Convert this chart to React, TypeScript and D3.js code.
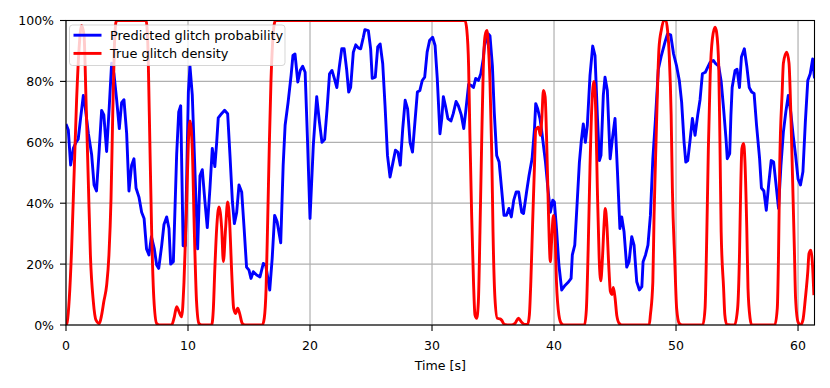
import * as d3 from 'd3';
import React from 'react';

// predicted glitch probability (blue), time in s / value in %
const predTime = [
  0, 0.19, 0.38, 0.6, 0.82, 1.0, 1.2, 1.42, 1.56, 1.83, 2.1, 2.3, 2.5, 2.73, 2.92, 3.1, 3.33, 3.55, 3.74, 3.93,
  4.15, 4.37, 4.56, 4.75, 4.97, 5.16, 5.38, 5.57, 5.74, 5.98, 6.2, 6.4, 6.6, 6.8, 7.0, 7.24, 7.43, 7.6, 7.84, 8.03,
  8.25, 8.44, 8.58, 8.8, 9.07, 9.24, 9.4, 9.6, 9.78, 10.03, 10.16, 10.35, 10.79, 10.98, 11.17, 11.39, 11.58, 11.8, 11.99, 12.2,
  12.35, 12.48, 12.75, 13.0, 13.25, 13.44, 13.64, 13.8, 13.99, 14.18, 14.4, 14.6, 14.8, 15.0, 15.16, 15.35, 15.63, 15.9, 16.17, 16.37,
  16.7, 16.9, 17.1, 17.3, 17.6, 17.8, 17.96, 18.2, 18.45, 18.6, 18.77, 19.0, 19.2, 19.4, 19.6, 19.8, 20.0, 20.27, 20.55, 20.77,
  20.98, 21.2, 21.4, 21.6, 21.8, 22.0, 22.2, 22.4, 22.6, 22.8, 23.0, 23.17, 23.33, 23.55, 23.75, 23.96, 24.15, 24.37, 24.5, 24.78,
  24.97, 25.1, 25.35, 25.55, 25.75, 25.96, 26.15, 26.35, 26.56, 26.78, 27.0, 27.2, 27.4, 27.6, 27.8, 28.0, 28.2, 28.4, 28.6, 28.8,
  29.0, 29.2, 29.4, 29.6, 29.8, 30.05, 30.25, 30.43, 30.65, 30.8, 30.93, 31.1, 31.3, 31.55, 31.74, 31.97, 32.16, 32.4, 32.6, 32.76,
  33.0, 33.2, 33.4, 33.58, 33.8, 34.0, 34.2, 34.3, 34.6, 34.75, 34.95, 35.1, 35.3, 35.5, 35.7, 35.9, 36.1, 36.3, 36.5, 36.7,
  36.9, 37.1, 37.35, 37.5, 37.75, 37.95, 38.2, 38.4, 38.5, 38.66, 38.85, 39.0, 39.3, 39.5, 39.7, 39.9, 40.03, 40.2, 40.4, 40.63,
  40.9, 41.2, 41.4, 41.5, 41.7, 41.9, 42.08, 42.24, 42.4, 42.57, 42.73, 42.95, 43.17, 43.36, 43.55, 43.72, 43.85, 44.04, 44.18, 44.37,
  44.6, 44.8, 45.0, 45.2, 45.4, 45.55, 45.74, 45.96, 46.15, 46.37, 46.56, 46.78, 47.0, 47.2, 47.3, 47.5, 47.7, 47.9, 48.1, 48.3,
  48.55, 48.8, 49.1, 49.3, 49.56, 49.8, 50.05, 50.27, 50.46, 50.66, 50.8, 50.96, 51.15, 51.34, 51.56, 51.78, 51.97, 52.16, 52.4, 52.6,
  52.8, 53.06, 53.25, 53.5, 53.7, 53.9, 54.1, 54.2, 54.4, 54.5, 54.6, 54.84, 55.0, 55.2, 55.36, 55.6, 55.8, 56.0, 56.2, 56.4,
  56.6, 56.85, 57.0, 57.2, 57.4, 57.6, 57.8, 58.0, 58.2, 58.4, 58.6, 58.8, 59.0, 59.2, 59.4, 59.6, 59.8, 60.0, 60.2, 60.4,
  60.6, 60.8, 61.0, 61.2, 61.35,
];
const predProb = [
  66, 64, 52.5, 58, 60, 61, 68, 75.4, 72, 63, 56, 46, 44, 58, 70.5, 69, 57, 72, 86, 82.5,
  74, 64.5, 73, 74, 63, 44, 52.5, 54.6, 45, 42, 37, 35, 25, 23, 29, 25, 19.7, 18.6, 26, 33,
  35.5, 31.7, 20, 20.8, 56, 70, 72, 26, 26, 76.5, 85, 75.6, 25, 49, 51, 40.4, 32, 45, 58, 52,
  60, 68, 69.4, 70.5, 69.4, 55.7, 40.4, 33.3, 37, 46, 43.7, 31.7, 19, 18, 15.3, 17.5, 16.4, 15.8, 20.2, 19.7,
  11.5, 21.9, 36, 34, 27, 52.5, 65.6, 73, 82, 88.5, 89, 79.8, 83.6, 85, 83, 60, 35, 59, 75, 66.7,
  60, 61, 71, 82.5, 83.6, 80.9, 78, 84.7, 90.7, 90.7, 84, 76.5, 78, 89.6, 92, 91, 90.7, 94.5, 97, 96.7,
  90.7, 81, 81.4, 91.3, 92.3, 85.8, 72, 55.7, 48.6, 53, 57.4, 56.8, 52.5, 64.5, 73.8, 71, 60, 56.8, 66.7, 76.5,
  77, 80.3, 81.4, 89.6, 93.4, 94.5, 91.8, 81, 62.8, 67.8, 75, 72, 67.8, 67, 69.4, 73.4, 72, 69, 64.5, 70,
  79, 78.7, 78, 81, 80.3, 82.5, 87.4, 91.8, 95.6, 95, 85, 70, 55.7, 53.5, 44.8, 36, 36, 38.3, 35.5, 41,
  43.7, 43.7, 37, 36.6, 43.7, 49, 54.6, 64.5, 72.7, 71, 67.8, 63.4, 53.5, 44.8, 37, 41, 40.4, 31.7, 19.7, 11.5,
  13, 14.2, 15.3, 23, 26.2, 40.4, 53.5, 60.6, 66, 60, 65.6, 82, 91.6, 88.5, 69, 54, 55.7, 75.4, 81.4, 77,
  54.6, 61.7, 67.8, 50.3, 31.7, 35.5, 30.6, 19, 20.8, 29, 26.2, 14.2, 11.5, 12.6, 20.8, 23, 26.2, 36, 54.6, 66.7,
  84, 88.5, 93, 95.6, 95.3, 89, 85, 80.3, 73.2, 60, 53.5, 54, 60.6, 67.8, 62.3, 69, 74, 82.5, 83, 84.7,
  86.3, 86.9, 85.8, 85, 80, 71, 61, 54.6, 56.3, 69, 78, 83.6, 84, 78, 88, 90.7, 85, 78, 76.5, 76,
  65.6, 54.6, 45, 44, 37.7, 46.4, 54, 53.5, 46, 38.3, 52.5, 63.4, 70, 75.4, 70, 62.3, 55.7, 48, 46, 50.3,
  66.7, 80.3, 82.5, 87.4, 81,
];

// true glitch density (red)
const trueTime = [
  0, 0.1, 0.27, 0.46, 0.66, 0.87, 1.07, 1.28, 1.48, 1.64, 1.83, 2.0, 2.24, 2.46, 2.73, 2.92, 3.1, 3.33, 3.52, 3.69,
  3.83, 3.96, 4.1, 4.2, 6.56, 6.7, 6.83, 7.02, 7.2, 7.43, 7.65, 8.66, 8.88, 9.07, 9.26, 9.48, 9.67, 9.9, 10.03, 10.16,
  10.35, 10.52, 10.7, 10.9, 11.12, 11.94, 12.08, 12.2, 12.35, 12.54, 12.76, 12.9, 13.08, 13.25, 13.41, 13.58, 13.74, 13.9, 14.07, 14.23,
  14.45, 14.67, 16.1, 16.25, 16.4, 16.53, 16.67, 16.8, 16.94, 17.08, 17.19, 32.7, 32.85, 33.0, 33.1, 33.25, 33.4, 33.52, 33.66, 33.8,
  33.93, 34.07, 34.2, 34.35, 34.5, 34.6, 34.75, 34.9, 35.0, 35.16, 35.35, 35.57, 35.7, 35.93, 36.5, 36.8, 37.08, 37.35, 37.6, 37.84,
  37.98, 38.1, 38.25, 38.4, 38.5, 38.72, 38.88, 39.0, 39.13, 39.27, 39.4, 39.55, 39.7, 39.8, 39.95, 40.08, 40.2, 40.4, 40.6, 40.8,
  42.5, 42.65, 42.8, 42.95, 43.1, 43.28, 43.42, 43.55, 43.7, 43.83, 43.97, 44.1, 44.2, 44.33, 44.48, 44.62, 44.75, 44.86, 45.0, 45.15,
  45.35, 45.55, 47.8, 47.9, 48.1, 48.2, 48.36, 48.5, 48.6, 48.8, 49.0, 49.18, 49.3, 49.45, 49.6, 49.7, 49.9, 50.05, 50.27, 50.5,
  52.2, 52.38, 52.5, 52.65, 52.8, 52.98, 53.2, 53.33, 53.5, 53.6, 53.7, 53.9, 54.0, 54.15, 54.8, 55.05, 55.2, 55.3, 55.4, 55.54,
  55.65, 55.8, 55.9, 56.07, 56.2, 58.1, 58.3, 58.4, 58.5, 58.7, 58.8, 59.07, 59.26, 59.4, 59.56, 59.7, 59.8, 60.0, 60.2, 60.4,
  60.6, 60.8, 60.9, 61.06, 61.17, 61.3,
];
const trueDensity = [
  0, 1, 8.7, 25, 49, 74, 90.7, 98.4, 95, 74, 47, 23, 7.7, 1.6, 0.5, 3.3, 7.7, 13, 23, 41.5,
  69, 90.7, 99.5, 100, 100, 93, 69, 30.6, 8.7, 0.5, 0, 0, 2.7, 6, 4.4, 2.7, 14, 41.5, 60, 67,
  58, 30.6, 7.7, 0.5, 0, 0, 5.5, 18.6, 31.7, 38.8, 31.7, 20.8, 31.7, 40.4, 33.9, 17.5, 5.5, 3.8, 5.5, 3.8,
  0.5, 0, 0, 2.2, 12, 34, 60, 80, 93, 99, 100, 100, 97, 85, 63.4, 36, 14.2, 3.3, 2.2, 7.7,
  30.6, 60, 84, 95, 96.7, 92.9, 80, 55.7, 30.6, 8.7, 2.2, 2, 1.6, 0.2, 0, 0.5, 2.2, 0.9, 0.2, 0.2,
  3.3, 14.2, 34, 52.5, 64, 65, 62.3, 67.8, 77, 75, 60, 36, 20.8, 27.3, 36, 30.6, 14.2, 3.3, 0.5, 0,
  0, 5, 25, 52, 72, 80, 70, 45, 22, 14.5, 22, 33, 38.3, 33, 20, 11, 10, 12.3, 9, 3,
  0.5, 0, 0, 3.3, 14.2, 36, 60, 80, 90.7, 97, 100, 100, 97, 88, 69, 45, 20.8, 5.5, 0.5, 0,
  0, 5.5, 25, 58, 82, 94, 97.8, 96, 85, 60, 30.6, 12, 3.3, 0.2, 0, 5.5, 22.7, 44.6, 58, 59.6,
  53.5, 31.7, 12, 2.2, 0, 0, 5.5, 22.7, 52.5, 76.5, 86, 89.6, 86, 71, 47, 25, 8.7, 1, 0, 1.6,
  8.7, 17.5, 23.5, 24.6, 20.8, 9.8,
];

const xTicks = [0, 10, 20, 30, 40, 50, 60];
const yTicks = [0, 20, 40, 60, 80, 100];
const seriesNames = ['Predicted glitch probability', 'True glitch density'];
const seriesColors = ['#0000ff', '#ff0000'];

const W = 830;
const H = 388;
const left = 66;
const right = 814.5;
const top = 20.5;
const bottom = 325;
const font = '"DejaVu Sans", sans-serif';

export default function App() {
  const x = d3.scaleLinear().domain([0, 61.35]).range([left, right]);
  const y = d3.scaleLinear().domain([0, 100]).range([bottom, top]);

  const line = d3
    .line<[number, number]>()
    .x((d) => x(d[0]))
    .y((d) => y(d[1]));
  const smooth = d3
    .line<[number, number]>()
    .x((d) => x(d[0]))
    .y((d) => y(d[1]))
    .curve(d3.curveMonotoneX);

  const pred = predTime.map((t, i) => [t, predProb[i]] as [number, number]);
  const truth = trueTime.map((t, i) => [t, trueDensity[i]] as [number, number]);

  return (
    <svg width={W} height={H} style={{ position: 'absolute', left: 0, top: 0 }} fontFamily={font}>
      <rect width={W} height={H} fill="#fff" />
      <defs>
        <clipPath id="plot">
          <rect x={left} y={top} width={right - left} height={bottom - top} />
        </clipPath>
      </defs>
      {/* grid */}
      {xTicks.map((t) => (
        <line key={'gx' + t} x1={x(t)} x2={x(t)} y1={top} y2={bottom} stroke="#b0b0b0" strokeWidth={1.2} />
      ))}
      {yTicks.map((v) => (
        <line key={'gy' + v} x1={left} x2={right} y1={y(v)} y2={y(v)} stroke="#b0b0b0" strokeWidth={1.2} />
      ))}
      <g clipPath="url(#plot)">
        <path d={line(pred) || ''} fill="none" stroke={seriesColors[0]} strokeWidth={2.9} strokeLinejoin="round" />
        <path d={smooth(truth) || ''} fill="none" stroke={seriesColors[1]} strokeWidth={2.9} strokeLinejoin="round" />
      </g>
      {/* spines */}
      <rect x={left} y={top} width={right - left} height={bottom - top} fill="none" stroke="#000" strokeWidth={1.1} />
      {/* x ticks */}
      {xTicks.map((t) => (
        <g key={'xt' + t}>
          <line x1={x(t)} x2={x(t)} y1={bottom} y2={bottom + 6} stroke="#000" strokeWidth={1.1} />
          <text x={x(t)} y={bottom + 24.5} textAnchor="middle" fontSize={12.5} fill="#000">
            {t}
          </text>
        </g>
      ))}
      {yTicks.map((v) => (
        <g key={'yt' + v}>
          <line x1={left - 6} x2={left} y1={y(v)} y2={y(v)} stroke="#000" strokeWidth={1.1} />
          <text x={left - 12} y={y(v) + 4.7} textAnchor="end" fontSize={12.5} fill="#000">
            {v + '%'}
          </text>
        </g>
      ))}
      <text x={(left + right) / 2} y={370} textAnchor="middle" fontSize={12.6} fill="#000">
        Time [s]
      </text>
      {/* legend */}
      <rect x={69.5} y={25} width={215.5} height={40.5} rx={3} fill="#fff" fillOpacity={0.8} stroke="#cccccc" strokeOpacity={0.8} />
      {seriesNames.map((name, i) => (
        <g key={name}>
          <line x1={73.5} x2={101.5} y1={35.2 + i * 18.2} y2={35.2 + i * 18.2} stroke={seriesColors[i]} strokeWidth={2.9} />
          <text x={110} y={39.6 + i * 18.2} fontSize={12.9} fill="#000">
            {name}
          </text>
        </g>
      ))}
    </svg>
  );
}
